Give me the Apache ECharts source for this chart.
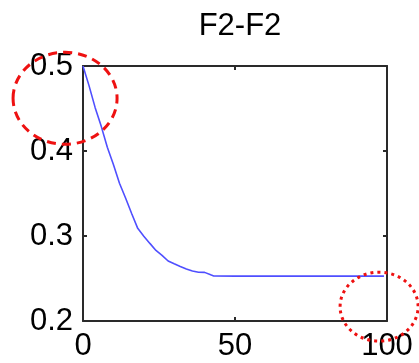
<!DOCTYPE html>
<html>
<head>
<meta charset="utf-8">
<script src="https://cdn.jsdelivr.net/npm/echarts@6/dist/echarts.min.js"></script>
<style>
html,body{margin:0;padding:0;background:#fff;}
#c{width:419px;height:363px;}
</style>
</head>
<body>
<div id="c"></div>
<script>
var title = 'F2-F2';
var xValues = [0, 2, 4, 6, 8, 10, 12, 14, 16, 18, 20, 22, 24, 26, 28, 30, 32, 34, 36, 38, 40, 42, 43, 50, 60, 70, 80, 90, 99];
var yValues = [0.5, 0.4766, 0.451, 0.429, 0.4045, 0.384, 0.362, 0.3447, 0.3265, 0.309, 0.2998, 0.2913, 0.283, 0.2773, 0.2706, 0.2673, 0.2641, 0.2612, 0.2588, 0.2574, 0.2572, 0.2543, 0.2529, 0.2528, 0.2528, 0.2528, 0.2528, 0.2528, 0.2528];
var xTicks = [0, 50, 100];
var yTicks = [0.2, 0.3, 0.4, 0.5];

var data = xValues.map(function (x, i) { return [x, yValues[i]]; });
var chart = echarts.init(document.getElementById('c'));
var axisColor = '#2a2a2a';
var fontFam = '"Liberation Sans", Arial, sans-serif';

function xAx(pos, showLabel) {
  return {
    type: 'value', position: pos, min: 0, max: 100, interval: 50,
    axisLine: { show: true, onZero: false, lineStyle: { color: axisColor, width: 2 } },
    axisTick: { show: true, inside: true, length: 4, lineStyle: { color: axisColor, width: 2 } },
    axisLabel: { show: showLabel, color: '#000', fontSize: 31, fontFamily: fontFam, margin: 10 },
    splitLine: { show: false }
  };
}
function yAx(pos, showLabel) {
  return {
    type: 'value', position: pos, min: 0.2, max: 0.5, interval: 0.1,
    axisLine: { show: true, onZero: false, lineStyle: { color: axisColor, width: 2 } },
    axisTick: { show: true, inside: true, length: 4, lineStyle: { color: axisColor, width: 2 } },
    axisLabel: { show: showLabel, color: '#000', fontSize: 31, fontFamily: fontFam, margin: 10,
      padding: [0, 0, 5, 0],
      formatter: function (v) { return v.toFixed(1); } },
    splitLine: { show: false }
  };
}

chart.setOption({
  animation: false,
  backgroundColor: '#fff',
  title: {
    text: title, left: 235, textAlign: 'center', top: 6,
    textStyle: { color: '#000', fontSize: 31, fontWeight: 'normal', fontFamily: fontFam }
  },
  grid: { left: 83, top: 66, right: 32, bottom: 42, containLabel: false },
  xAxis: [xAx('bottom', true), xAx('top', false)],
  yAxis: [yAx('left', true), yAx('right', false)],
  series: [{
    type: 'line', data: data, showSymbol: false, symbol: 'none',
    lineStyle: { color: '#4f4fff', width: 1.6 }, clip: true
  }]
});

var c1 = chart.convertToPixel({ xAxisIndex: 0, yAxisIndex: 0 }, [-5.9, 0.462]);
var c2 = chart.convertToPixel({ xAxisIndex: 0, yAxisIndex: 0 }, [97.4, 0.2169]);
chart.setOption({
  graphic: [
    { type: 'ellipse', shape: { cx: c1[0], cy: c1[1], rx: 52, ry: 46 }, z: 100,
      style: { fill: 'none', stroke: '#ee1111', lineWidth: 3, lineDash: [9, 6] } },
    { type: 'ellipse', shape: { cx: c2[0], cy: c2[1], rx: 39, ry: 34.5 }, z: 100,
      style: { fill: 'none', stroke: '#ee1111', lineWidth: 3, lineDash: [3, 4] } }
  ]
});
</script>
</body>
</html>
